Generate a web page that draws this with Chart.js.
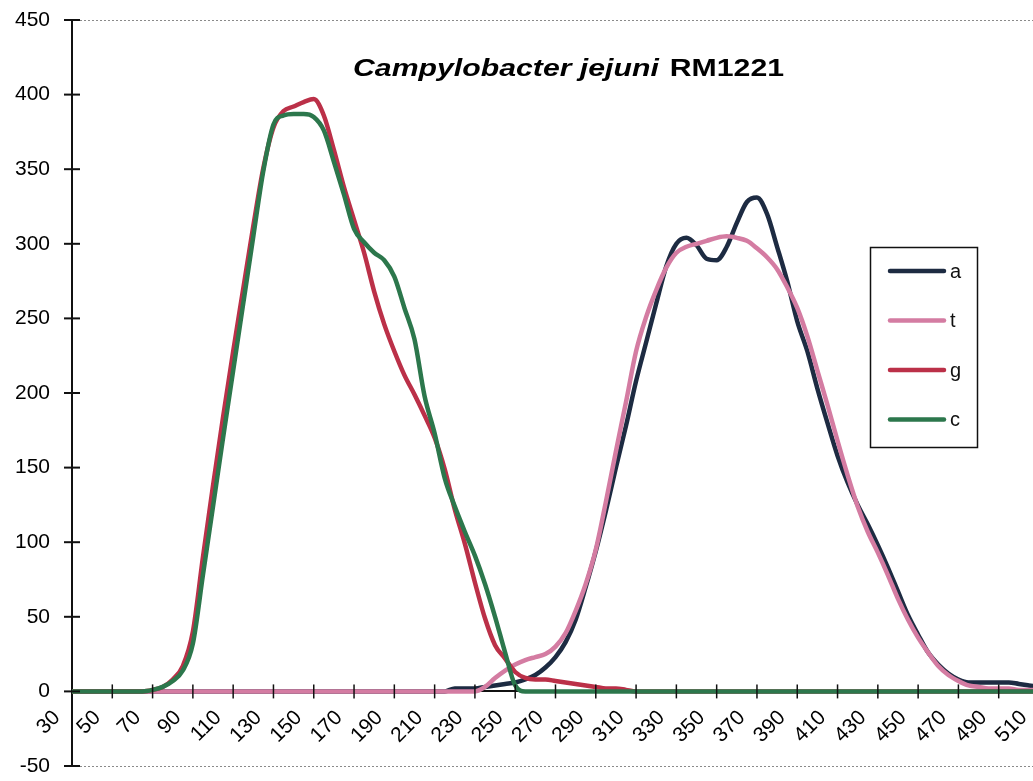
<!DOCTYPE html>
<html>
<head>
<meta charset="utf-8">
<title>Campylobacter jejuni RM1221</title>
<script src="https://cdn.jsdelivr.net/npm/chart.js@4.4.1/dist/chart.umd.min.js"></script>
<style>
  html, body { margin: 0; padding: 0; background: #fff; overflow: hidden; }
  #wrap { width: 1046px; height: 781px; }
</style>
</head>
<body>
<div id="wrap"><canvas id="ntChart" width="1046" height="781"></canvas></div>
<script>
// ===== DATA =====
const positions = [
  30, 35, 40, 45, 50, 55, 60, 65, 70, 75, 80, 85, 90, 95, 100, 105, 110, 115, 120, 125,
  130, 135, 140, 145, 150, 155, 160, 165, 170, 175, 180, 185, 190, 195, 200, 205, 210, 215, 220, 225,
  230, 235, 240, 245, 250, 255, 260, 265, 270, 275, 280, 285, 290, 295, 300, 305, 310, 315, 320, 325,
  330, 335, 340, 345, 350, 355, 360, 365, 370, 375, 380, 385, 390, 395, 400, 405, 410, 415, 420, 425,
  430, 435, 440, 445, 450, 455, 460, 465, 470, 475, 480, 485, 490, 495, 500, 505, 510
];

const countA = [
  0, 0, 0, 0, 0, 0, 0, 0, 0, 0, 0, 0, 0, 0, 0, 0, 0, 0, 0, 0,
  0, 0, 0, 0, 0, 0, 0, 0, 0, 0, 0, 0, 0, 0, 0, 0, 0, 0, 2, 2,
  2, 3, 4, 5, 6, 8, 11, 16, 23, 33, 48, 70, 94, 121, 150, 178, 208, 234, 260, 285,
  300, 304, 299, 290, 289, 298, 314, 328, 331, 320, 298, 275, 248, 228, 203, 180, 158, 140, 125, 112,
  98, 83, 67, 51, 38, 26, 18, 12, 8, 6, 6, 6, 6, 6, 5, 4, 3
];

const countT = [
  0, 0, 0, 0, 0, 0, 0, 0, 0, 0, 0, 0, 0, 0, 0, 0, 0, 0, 0, 0,
  0, 0, 0, 0, 0, 0, 0, 0, 0, 0, 0, 0, 0, 0, 0, 0, 0, 0, 0, 0,
  0, 3, 9, 14, 18, 21, 23, 25, 30, 39, 54, 72, 95, 127, 161, 194, 228, 251, 269, 284,
  294, 298, 300, 302, 304, 305, 304, 302, 297, 291, 283, 271, 257, 238, 215, 192, 168, 145, 124, 107,
  93, 78, 62, 48, 36, 26, 17, 11, 7, 4, 3, 2, 2, 2, 1, 1, 1
];

const countG = [
  0, 0, 0, 0, 0, 0, 0, 0, 1, 3, 8, 17, 40, 90, 138, 184, 228, 270, 312, 351,
  378, 389, 392, 395, 397, 386, 363, 338, 316, 294, 268, 246, 228, 212, 199, 185, 170, 149, 122, 99,
  73, 49, 31, 22, 13, 9, 8, 8, 7, 6, 5, 4, 3, 2, 2, 1, 0, 0, 0, 0,
  0, 0, 0, 0, 0, 0, 0, 0, 0, 0, 0, 0, 0, 0, 0, 0, 0, 0, 0, 0,
  0, 0, 0, 0, 0, 0, 0, 0, 0, 0, 0, 0, 0, 0, 0, 0, 0
];

const countC = [
  0, 0, 0, 0, 0, 0, 0, 0, 1, 3, 7, 14, 32, 78, 124, 170, 215, 260, 305, 349,
  380, 386, 387, 387, 385, 376, 355, 333, 310, 301, 294, 289, 278, 257, 236, 198, 173, 143, 124, 107,
  91, 72, 50, 26, 4, 0, 0, 0, 0, 0, 0, 0, 0, 0, 0, 0, 0, 0, 0, 0,
  0, 0, 0, 0, 0, 0, 0, 0, 0, 0, 0, 0, 0, 0, 0, 0, 0, 0, 0, 0,
  0, 0, 0, 0, 0, 0, 0, 0, 0, 0, 0, 0, 0, 0, 0, 0, 0
];

const seriesNames = ['a', 't', 'g', 'c'];
const seriesColors = ['#1d2b42', '#d47ca2', '#bb3048', '#2c774c'];
const titleSpecies = 'Campylobacter jejuni';
const titleStrain = 'RM1221';
const labelStep = 20;

const FONT = '"Liberation Sans", Arial, sans-serif';

// ===== PLUGINS =====
// cross-style tick marks + dotted frame lines
const axisMarks = {
  id: 'axisMarks',
  beforeDatasetsDraw(chart) {
    const { ctx, chartArea, scales: { y } } = chart;
    ctx.save();
    ctx.strokeStyle = '#8a8a8a';
    ctx.lineWidth = 1;
    ctx.setLineDash([2, 2]);
    [y.max, y.min].forEach(v => {
      const py = Math.round(y.getPixelForValue(v)) + 0.5;
      ctx.beginPath();
      ctx.moveTo(chartArea.left, py);
      ctx.lineTo(chartArea.right, py);
      ctx.stroke();
    });
    ctx.restore();
  },
  afterDatasetsDraw(chart) {
    const { ctx, scales: { x, y } } = chart;
    ctx.save();
    ctx.strokeStyle = '#111';
    ctx.lineWidth = 2;
    y.ticks.forEach(t => {
      const py = y.getPixelForValue(t.value);
      ctx.beginPath();
      ctx.moveTo(x.left - 8, py);
      ctx.lineTo(x.left + 8, py);
      ctx.stroke();
    });
    const y0 = y.getPixelForValue(0);
    ctx.lineWidth = 1.5;
    positions.forEach((p, i) => {
      if (i === 0 || (p - positions[0]) % labelStep) return;
      const px = x.getPixelForValue(i);
      ctx.beginPath();
      ctx.moveTo(px, y0 - 7);
      ctx.lineTo(px, y0 + 7);
      ctx.stroke();
    });
    ctx.restore();
  }
};

// legend box inside the plot
const boxLegend = {
  id: 'boxLegend',
  afterDraw(chart) {
    const { ctx } = chart;
    const left = 870, top = 247, w = 107, h = 200;
    ctx.save();
    ctx.fillStyle = '#fff';
    ctx.fillRect(left, top, w, h);
    ctx.strokeStyle = '#111';
    ctx.lineWidth = 1.5;
    ctx.strokeRect(left + 0.5, top + 0.5, w, h);
    ctx.font = '20px ' + FONT;
    ctx.textBaseline = 'middle';
    chart.data.datasets.forEach((ds, i) => {
      const cy = top + 24 + i * 49.5;
      ctx.strokeStyle = ds.borderColor;
      ctx.lineWidth = 4.5;
      ctx.lineCap = 'round';
      ctx.beginPath();
      ctx.moveTo(left + 20, cy);
      ctx.lineTo(left + 74, cy);
      ctx.stroke();
      ctx.fillStyle = '#111';
      ctx.fillText(ds.label, left + 80, cy + 1);
    });
    ctx.restore();
  }
};

// two-style title (species in italics)
const splitTitle = {
  id: 'splitTitle',
  afterDraw(chart) {
    const { ctx } = chart;
    ctx.save();
    ctx.translate(353, 76);
    ctx.scale(1.26, 1);
    ctx.fillStyle = '#000';
    ctx.textBaseline = 'alphabetic';
    ctx.font = 'italic bold 24px ' + FONT;
    ctx.fillText(titleSpecies, 0, 0);
    const w = ctx.measureText(titleSpecies + ' ').width;
    ctx.font = 'bold 24px ' + FONT;
    ctx.fillText(titleStrain, w + 2, 0);
    ctx.restore();
  }
};

// ===== CHART =====
const counts = [countA, countT, countG, countC];

new Chart(document.getElementById('ntChart'), {
  type: 'line',
  data: {
    labels: positions,
    datasets: seriesNames.map((name, i) => ({
      label: name,
      data: counts[i],
      borderColor: seriesColors[i],
      backgroundColor: seriesColors[i],
      borderWidth: 4.5,
      pointRadius: 0,
      fill: false,
      cubicInterpolationMode: 'monotone',
      order: seriesNames.length - 1 - i,
    }))
  },
  options: {
    responsive: false,
    devicePixelRatio: 1,
    animation: false,
    layout: { padding: { top: 20, bottom: 15, left: 0, right: 7 } },
    plugins: {
      legend: { display: false },
      title: { display: false },
      tooltip: { enabled: false }
    },
    scales: {
      x: {
        type: 'category',
        position: { y: 0 },
        grid: { display: false, drawTicks: false },
        border: { display: true, color: '#111', width: 2 },
        ticks: {
          autoSkip: false,
          minRotation: 45,
          maxRotation: 45,
          padding: 14,
          labelOffset: -15,
          color: '#000',
          font: { family: FONT, size: 21 },
          callback: (v, i) => (positions[i] - positions[0]) % labelStep === 0 ? String(positions[i]) : null
        },
        afterFit: s => { s.paddingLeft = 0; s.paddingRight = 0; s.paddingTop = 0; s.paddingBottom = 0; }
      },
      y: {
        min: -50,
        max: 450,
        grid: { display: false, drawTicks: false },
        border: { display: true, color: '#111', width: 2 },
        ticks: {
          stepSize: 50,
          padding: 22,
          color: '#000',
          font: { family: FONT, size: 21 }
        },
        afterFit: s => { s.width = 72; s.paddingTop = 0; s.paddingBottom = 0; }
      }
    }
  },
  plugins: [axisMarks, boxLegend, splitTitle]
});
</script>
</body>
</html>
